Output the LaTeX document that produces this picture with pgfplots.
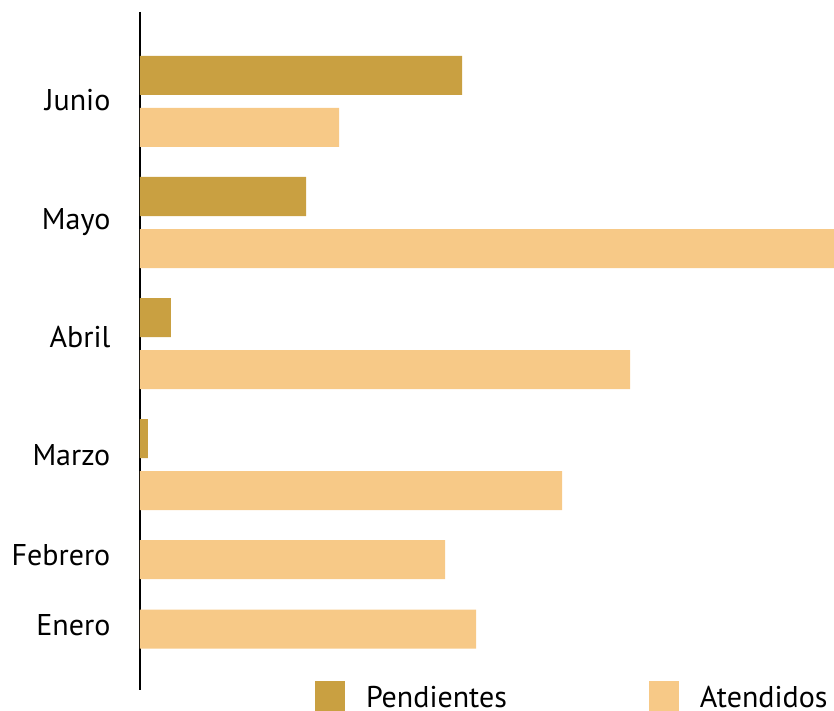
\documentclass[border=0pt]{standalone}
\usepackage{pgfplots}
\pgfplotsset{compat=1.18}
\usepackage{fontspec}
\setmainfont{PT Sans}
\definecolor{pend}{HTML}{C9A041}
\definecolor{aten}{HTML}{F7C987}
\begin{document}
\begin{tikzpicture}
\begin{axis}[
  scale only axis,
  width=694pt, height=678pt,
  xmin=0, xmax=694,
  ymin=12, ymax=690,
  y dir=reverse,
  xbar, bar shift=0pt, bar width=39,
  axis x line=none,
  axis y line=left,
  y axis line style={-, line width=1.1pt, black},
  ytick={101,220,338,456,556,626},
  yticklabels={Junio,Mayo,Abril,Marzo,Febrero,Enero},
  ytick style={draw=none},
  yticklabel style={font=\fontsize{30}{34}\selectfont, anchor=east, xshift=-24pt, yshift=-6pt, text height=0.72em, text depth=0pt},
  legend columns=2,
  legend style={draw=none, fill=none, at={(axis cs:175,696)}, anchor=west,
    font=\fontsize{30}{34}\selectfont,
    nodes={inner sep=0pt, text height=0.72em, text depth=0pt},
    /tikz/every odd column/.append style={column sep=21pt},
    /tikz/every even column/.append style={column sep=142pt},
    inner sep=0pt, outer sep=0pt, row sep=0pt},
  legend image code/.code={\fill[#1, draw=none] (0pt,-7.4pt) rectangle (30pt,22.6pt);},
  clip=false,
]
\addplot[fill=pend, draw=none] coordinates {(322,75.5) (166,196.5) (31,317.5) (8,438.5)};
\addlegendentry{Pendientes}
\addplot[fill=aten, draw=none] coordinates {(199,127.5) (694,248.5) (490,369.5) (422,490.5) (305,559.5) (336,629)};
\addlegendentry{Atendidos}
\coordinate (BL) at (axis cs:-140,711);
\coordinate (TR) at (axis cs:694,0);
\end{axis}
\pgfresetboundingbox
\path (BL) rectangle (TR);
\end{tikzpicture}
\end{document}
